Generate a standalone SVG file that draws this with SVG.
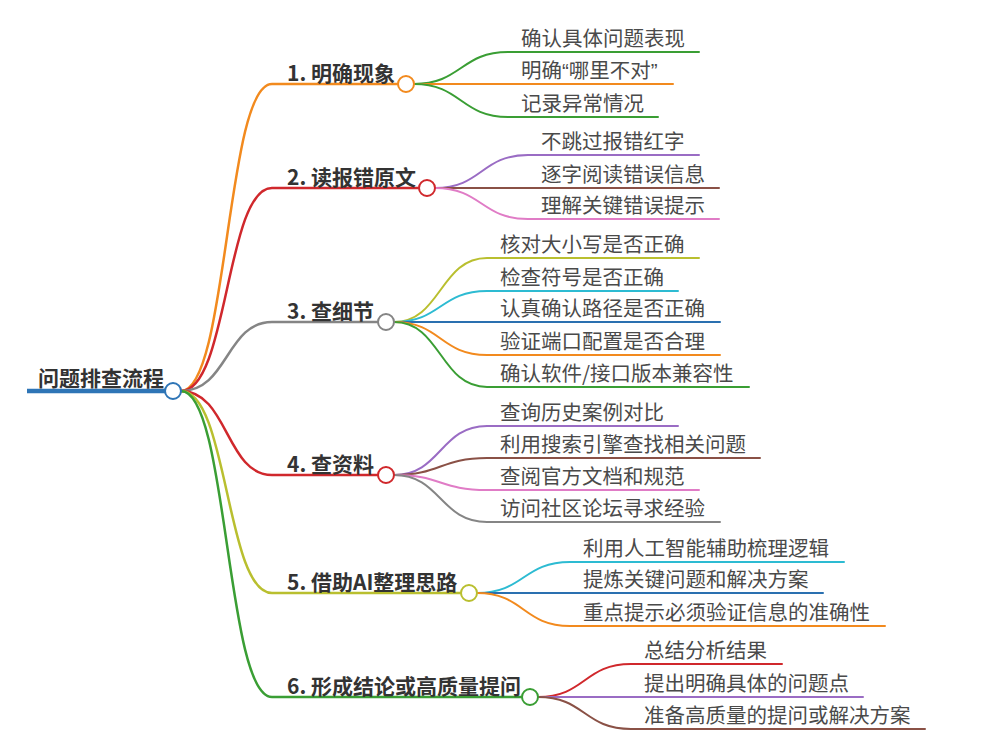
<svg xmlns="http://www.w3.org/2000/svg" width="1007" height="748" viewBox="0 0 1007 748">
<style>
.c{fill:none;stroke-linecap:round}
.b{stroke-width:2.5}
.s{stroke-width:2}
.dot{fill:#fff;stroke-width:2}
.rt{font-family:"Noto Sans CJK SC","Noto Sans",sans-serif;font-weight:bold;font-size:21px;fill:#333}
.bt{font-family:"Noto Sans CJK SC","Noto Sans",sans-serif;font-weight:bold;font-size:21px;fill:#333}
.ct{font-family:"Noto Sans CJK SC","Noto Sans",sans-serif;font-size:20.5px;fill:#4a4a4a}
.q{font-family:"Liberation Sans",sans-serif}
.or{stroke:#f28a1e}.rd{stroke:#d0282c}.gy{stroke:#858585}.gn{stroke:#3a9e34}.yg{stroke:#b9bf2f}
.pu{stroke:#9a6cc4}.br{stroke:#8a5146}.pk{stroke:#e07cc6}.cy{stroke:#2dbbd2}.bl{stroke:#2a70b0}
</style>
<rect width="1007" height="748" fill="#fff"/>
<g id="connectors">
<path class="c b or" d="M181 391 C228 391 226 84 272 84 L398 84"/>
<path class="c b rd" d="M181 391 C228 391 226 188 272 188 L419 188"/>
<path class="c b gy" d="M181 391 C228 391 226 322 272 322 L378 322"/>
<path class="c b rd" d="M181 391 C228 391 226 475 272 475 L378 475"/>
<path class="c b yg" d="M181 391 C228 391 226 593 272 593 L461 593"/>
<path class="c b gn" d="M181 391 C228 391 226 697 272 697 L522 697"/>
<path class="c s gn" d="M414 84 C461 84 461 52 508 52 L699 52"/>
<path class="c s or" d="M414 84 L673 84"/>
<path class="c s gn" d="M414 84 C461 84 461 117 508 117 L658 117"/>
<path class="c s pu" d="M435 188 C482 188 481 155 528 155 L699 155"/>
<path class="c s br" d="M435 188 L719 188"/>
<path class="c s pk" d="M435 188 C482 188 481 219 528 219 L719 219"/>
<path class="c s yg" d="M394 322 C441 322 440 258 487 258 L699 258"/>
<path class="c s cy" d="M394 322 C441 322 440 291 487 291 L678 291"/>
<path class="c s bl" d="M394 322 L720 322"/>
<path class="c s or" d="M394 322 C441 322 440 355 487 355 L720 355"/>
<path class="c s gn" d="M394 322 C441 322 440 387 487 387 L749 387"/>
<path class="c s pu" d="M394 475 C441 475 440 426 487 426 L678 426"/>
<path class="c s br" d="M394 475 C441 475 440 458 487 458 L760 458"/>
<path class="c s pk" d="M394 475 C441 475 440 490 487 490 L699 490"/>
<path class="c s gy" d="M394 475 C441 475 440 522 487 522 L720 522"/>
<path class="c s cy" d="M477 593 C524 593 523 562 570 562 L844 562"/>
<path class="c s bl" d="M477 593 L823 593"/>
<path class="c s or" d="M477 593 C524 593 523 626 570 626 L885 626"/>
<path class="c s rd" d="M538 697 C585 697 584 664 631 664 L782 664"/>
<path class="c s pu" d="M538 697 L863 697"/>
<path class="c s br" d="M538 697 C585 697 584 729 631 729 L925 729"/>
</g>
<g id="root">
<path d="M27 391 L165 391" stroke="#2e75b6" stroke-width="4.5" fill="none"/>
<circle class="dot" cx="173" cy="391" r="8" stroke="#2e75b6"/>
<text class="rt" x="38" y="386">问题排查流程</text>
</g>
<g id="b1"><circle class="dot or" cx="406" cy="84" r="8"/><text class="bt" x="287" y="81">1. 明确现象</text></g>
<g id="b1c1"><text class="ct" x="521" y="46">确认具体问题表现</text></g>
<g id="b1c2"><text class="ct" x="521" y="78">明确<tspan class="q">“</tspan>哪里不对<tspan class="q">”</tspan></text></g>
<g id="b1c3"><text class="ct" x="521" y="111">记录异常情况</text></g>
<g id="b2"><circle class="dot rd" cx="427" cy="188" r="8"/><text class="bt" x="287" y="185">2. 读报错原文</text></g>
<g id="b2c1"><text class="ct" x="541" y="149">不跳过报错红字</text></g>
<g id="b2c2"><text class="ct" x="541" y="182">逐字阅读错误信息</text></g>
<g id="b2c3"><text class="ct" x="541" y="213">理解关键错误提示</text></g>
<g id="b3"><circle class="dot gy" cx="386" cy="322" r="8"/><text class="bt" x="287" y="319">3. 查细节</text></g>
<g id="b3c1"><text class="ct" x="500" y="252">核对大小写是否正确</text></g>
<g id="b3c2"><text class="ct" x="500" y="285">检查符号是否正确</text></g>
<g id="b3c3"><text class="ct" x="500" y="316">认真确认路径是否正确</text></g>
<g id="b3c4"><text class="ct" x="500" y="349">验证端口配置是否合理</text></g>
<g id="b3c5"><text class="ct" x="500" y="381">确认软件/接口版本兼容性</text></g>
<g id="b4"><circle class="dot rd" cx="386" cy="475" r="8"/><text class="bt" x="287" y="472">4. 查资料</text></g>
<g id="b4c1"><text class="ct" x="500" y="420">查询历史案例对比</text></g>
<g id="b4c2"><text class="ct" x="500" y="452">利用搜索引擎查找相关问题</text></g>
<g id="b4c3"><text class="ct" x="500" y="484">查阅官方文档和规范</text></g>
<g id="b4c4"><text class="ct" x="500" y="516">访问社区论坛寻求经验</text></g>
<g id="b5"><circle class="dot yg" cx="469" cy="593" r="8"/><text class="bt" x="287" y="590">5. 借助AI整理思路</text></g>
<g id="b5c1"><text class="ct" x="583" y="556">利用人工智能辅助梳理逻辑</text></g>
<g id="b5c2"><text class="ct" x="583" y="587">提炼关键问题和解决方案</text></g>
<g id="b5c3"><text class="ct" x="583" y="620">重点提示必须验证信息的准确性</text></g>
<g id="b6"><circle class="dot gn" cx="530" cy="697" r="8"/><text class="bt" x="287" y="694">6. 形成结论或高质量提问</text></g>
<g id="b6c1"><text class="ct" x="644" y="658">总结分析结果</text></g>
<g id="b6c2"><text class="ct" x="644" y="691">提出明确具体的问题点</text></g>
<g id="b6c3"><text class="ct" x="644" y="723">准备高质量的提问或解决方案</text></g>
</svg>
